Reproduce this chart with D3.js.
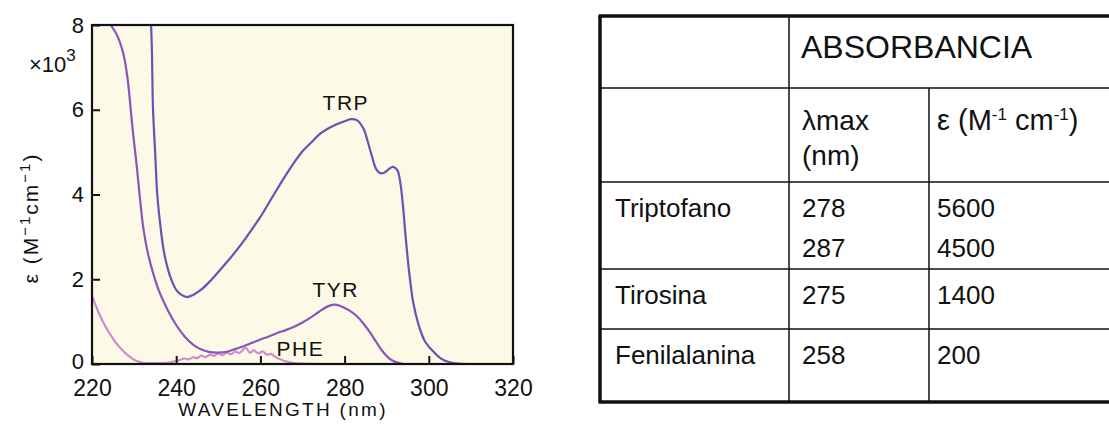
<!DOCTYPE html>
<html>
<head>
<meta charset="utf-8">
<script src="https://cdn.jsdelivr.net/npm/d3@7"></script>
<style>
  body { margin: 0; background: #fff; }
  svg { display: block; }
  text { font-family: "Liberation Sans", Arial, sans-serif; fill: #111; }
</style>
</head>
<body>
<svg width="1109" height="425"></svg>
<script>
// spectra (wavelength nm, epsilon x10^3)
var trpWl  = [233.8, 234.2, 234.5, 235.0, 235.5, 236.2, 237.0, 238.0, 239.0, 240.0, 241.0, 242.5, 244, 246, 248, 250, 252, 254, 256, 258, 260, 262, 264, 266, 268, 270, 272, 274, 276, 278, 280, 281.5, 283, 284.5, 285.5, 286.5, 287.5, 288.5, 289.5, 290.5, 291.5, 292.5, 293.2, 293.8, 294.5, 295.3, 296.3, 297.5, 299, 301, 303, 305, 307, 309.5];
var trpEps = [8.6, 7.5, 6.0, 5.0, 4.0, 3.3, 2.7, 2.25, 1.95, 1.75, 1.65, 1.58, 1.63, 1.76, 1.95, 2.17, 2.4, 2.64, 2.9, 3.18, 3.47, 3.8, 4.13, 4.45, 4.75, 5.02, 5.22, 5.42, 5.55, 5.65, 5.73, 5.78, 5.75, 5.55, 5.25, 4.9, 4.6, 4.5, 4.52, 4.6, 4.65, 4.58, 4.3, 3.8, 3.0, 2.2, 1.45, 0.95, 0.55, 0.3, 0.12, 0.04, 0.01, 0];

var tyrWl  = [223.5, 224.5, 226, 227.5, 228.5, 229.2, 229.8, 230.6, 231.3, 232.2, 233.3, 234.5, 236, 238, 240, 242, 244, 246, 248, 250, 252, 254, 256, 258, 260, 262, 264, 266, 268, 270, 272, 274, 276, 277.5, 279, 281, 283, 284.5, 286, 287.5, 289, 290.5, 292, 294];
var tyrEps = [8.2, 8.0, 7.75, 7.3, 6.7, 6.0, 5.4, 4.7, 4.0, 3.2, 2.6, 2.15, 1.7, 1.27, 0.92, 0.65, 0.46, 0.34, 0.28, 0.27, 0.29, 0.35, 0.42, 0.5, 0.58, 0.65, 0.73, 0.8, 0.88, 0.98, 1.1, 1.24, 1.36, 1.4, 1.37, 1.27, 1.12, 0.95, 0.75, 0.52, 0.3, 0.14, 0.05, 0];

var pheWl  = [220, 221, 222, 223, 224, 225, 226, 227, 228, 229, 230, 231, 232, 234, 236, 238, 240, 241, 242, 243, 244, 245, 246, 247, 248, 249, 250, 251, 252, 253, 254, 255, 256.5, 257.5, 258.5, 259.5, 260.5, 261.5, 262.5, 263.5, 265, 266.5, 268, 270, 275];
var pheEps = [1.6, 1.35, 1.12, 0.92, 0.75, 0.6, 0.46, 0.35, 0.25, 0.17, 0.1, 0.06, 0.03, 0.02, 0.02, 0.03, 0.07, 0.1, 0.13, 0.11, 0.16, 0.14, 0.2, 0.16, 0.22, 0.19, 0.25, 0.21, 0.27, 0.23, 0.29, 0.26, 0.38, 0.27, 0.32, 0.25, 0.3, 0.22, 0.24, 0.17, 0.1, 0.05, 0.02, 0.01, 0];

var xTicks = [220, 240, 260, 280, 300, 320];
var yTicks = [0, 2, 4, 6, 8];

// table contents
var rowNames  = ["Triptofano", "Tirosina", "Fenilalanina"];
var lambdaMax = [["278", "287"], ["275"], ["258"]];
var epsMax    = [["5600", "4500"], ["1400"], ["200"]];

var svg = d3.select("svg");

var x = d3.scaleLinear().domain([220, 320]).range([92, 513]),
	y = d3.scaleLinear().domain([0, 8]).range([364, 25]);

svg.append("defs").append("clipPath").attr("id", "plot")
	.append("rect")
	.attr("x", x(220)).attr("y", y(8))
	.attr("width", x(320) - x(220)).attr("height", y(0) - y(8));

svg.append("rect")
	.attr("x", x(220)).attr("y", y(8))
	.attr("width", x(320) - x(220)).attr("height", y(0) - y(8))
	.attr("fill", "#fcfae6");

var line = d3.line()
	.x(d => x(d[0]))
	.y(d => y(d[1]))
	.curve(d3.curveCatmullRom.alpha(0.5));

var series = [
	{wl: pheWl, eps: pheEps, color: "#cf8ccb"},
	{wl: tyrWl, eps: tyrEps, color: "#8a55b8"},
	{wl: trpWl, eps: trpEps, color: "#6a52b4"}
];

var curves = svg.append("g").attr("clip-path", "url(#plot)");
series.forEach(function(s) {
	curves.append("path")
		.datum(s.wl.map((w, i) => [w, s.eps[i]]))
		.attr("fill", "none")
		.attr("stroke", s.color)
		.attr("stroke-width", 2.2)
		.attr("d", line);
});

// axes, ticks point inward
var xAxis = svg.append("g")
	.attr("transform", "translate(0," + y(0) + ")")
	.call(d3.axisBottom(x).tickValues(xTicks).tickSize(-8).tickPadding(16).tickSizeOuter(0));
xAxis.select(".domain").remove();
xAxis.selectAll("line").attr("stroke", "#111").attr("stroke-width", 2);
xAxis.selectAll("text").attr("font-size", 23).attr("font-family", "Liberation Sans").attr("fill", "#111");

var yAxis = svg.append("g")
	.attr("transform", "translate(" + x(220) + ",0)")
	.call(d3.axisLeft(y).tickValues(yTicks).tickSize(-8).tickPadding(8).tickSizeOuter(0));
yAxis.select(".domain").remove();
yAxis.selectAll("line").attr("stroke", "#111").attr("stroke-width", 2);
yAxis.selectAll("text").attr("font-size", 22).attr("font-family", "Liberation Sans").attr("fill", "#111")
	.attr("dy", d => d === 0 ? "0.2em" : "0.32em");

svg.append("rect")
	.attr("x", x(220)).attr("y", y(8))
	.attr("width", x(320) - x(220)).attr("height", y(0) - y(8))
	.attr("fill", "none").attr("stroke", "#111").attr("stroke-width", 2.2);

// x10^3 multiplier
var mult = svg.append("text").attr("x", 29).attr("y", 72).attr("font-size", 22);
mult.append("tspan").text("\u00d710");
mult.append("tspan").attr("dy", -11).attr("font-size", 17).text("3");

// axis titles
svg.append("text")
	.attr("x", 283).attr("y", 416)
	.attr("text-anchor", "middle")
	.attr("font-size", 19)
	.attr("letter-spacing", 2.3)
	.text("WAVELENGTH (nm)");

var yTitle = svg.append("text")
	.attr("transform", "translate(38,218) rotate(-90)")
	.attr("text-anchor", "middle")
	.attr("font-size", 21)
	.attr("letter-spacing", 2);
yTitle.append("tspan").text("\u03b5 (M");
yTitle.append("tspan").attr("dy", -8).attr("font-size", 15).text("\u22121");
yTitle.append("tspan").attr("dy", 8).text("cm");
yTitle.append("tspan").attr("dy", -8).attr("font-size", 15).text("\u22121");
yTitle.append("tspan").attr("dy", 8).text(")");

// curve labels
var labels = [["TRP", 280.3, 6.0], ["TYR", 277.9, 1.58], ["PHE", 269.5, 0.19]];
svg.selectAll(".clabel")
	.data(labels)
	.enter().append("text")
	.attr("class", "clabel")
	.attr("x", d => x(d[1]))
	.attr("y", d => y(d[2]))
	.attr("text-anchor", "middle")
	.attr("font-size", 21)
	.attr("letter-spacing", 1.5)
	.text(d => d[0]);

// table
var t = svg.append("g");
var tl = 600, tr = 1114, c1 = 789, c2 = 929;
var rTop = 16, r1 = 88, r2 = 182, r3 = 269, r4 = 329, rBot = 402;

function hline(y0, xa, xb, w) {
	t.append("line").attr("x1", xa).attr("x2", xb).attr("y1", y0).attr("y2", y0)
		.attr("stroke", "#111").attr("stroke-width", w);
}
function vline(x0, ya, yb, w) {
	t.append("line").attr("x1", x0).attr("x2", x0).attr("y1", ya).attr("y2", yb)
		.attr("stroke", "#111").attr("stroke-width", w);
}
[r1, r2, r3, r4].forEach(r => hline(r, tl, tr, 1.5));
vline(c1, rTop, rBot, 1.5);
vline(c2, r1, rBot, 1.5);
hline(rTop, tl - 1.5, tr, 3.5);
hline(rBot, tl - 1.5, tr, 3.5);
vline(tl, rTop, rBot, 3.5);
vline(tr, rTop, rBot, 3.5);

function cell(txt, x0, y0, fs) {
	return t.append("text").attr("x", x0).attr("y", y0).attr("font-size", fs || 26).text(txt);
}
cell("ABSORBANCIA", 801, 58, 32);
cell("\u03bbmax", 802, 130, 28);
cell("(nm)", 802, 165, 28);
var eh = cell("\u03b5 (M", 937, 130, 29);
eh.append("tspan").attr("dy", -10).attr("font-size", 17).text("-1");
eh.append("tspan").attr("dy", 10).text(" cm");
eh.append("tspan").attr("dy", -10).attr("font-size", 17).text("-1");
eh.append("tspan").attr("dy", 10).text(")");

var rowTops = [r2, r3, r4];
rowNames.forEach(function(n, i) {
	var b = rowTops[i] + 35;
	cell(n, 615, b);
	lambdaMax[i].forEach((v, j) => cell(v, 802, b + j * 40));
	epsMax[i].forEach((v, j) => cell(v, 937, b + j * 40));
});
</script>
</body>
</html>
